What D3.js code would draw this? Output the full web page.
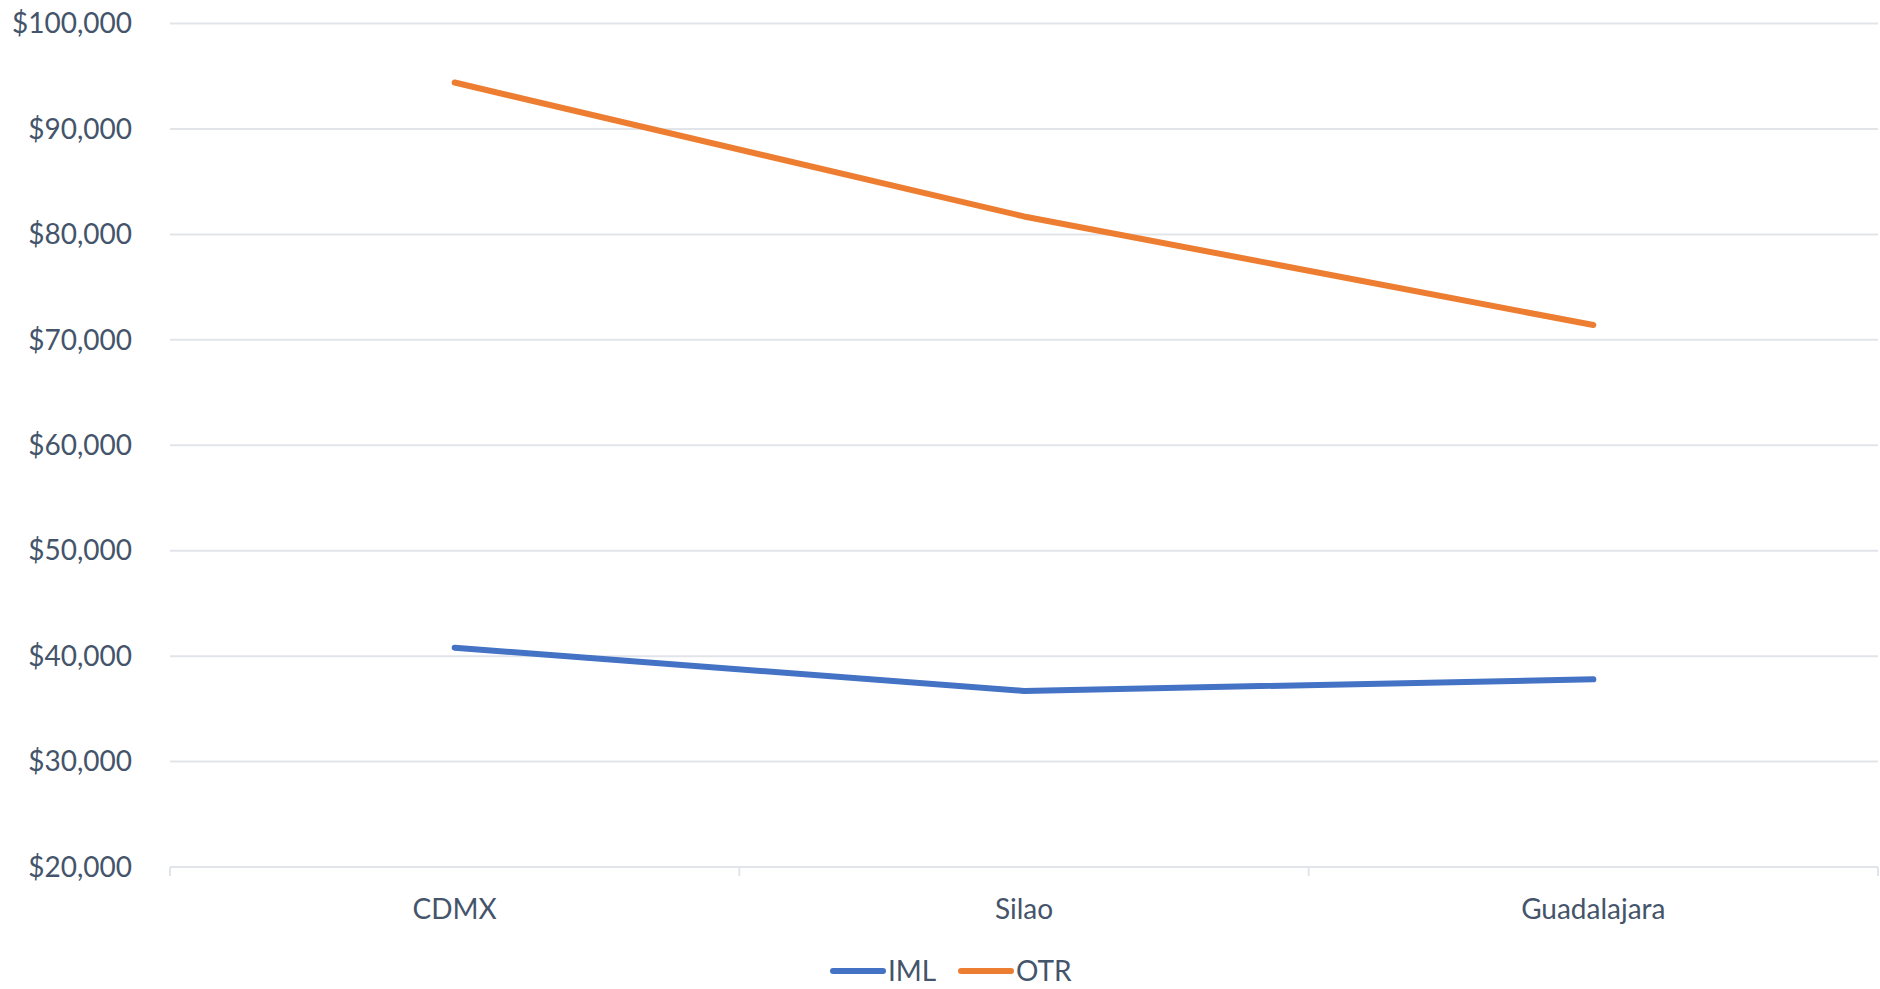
<!DOCTYPE html>
<html>
<head>
<meta charset="utf-8">
<script src="https://cdn.jsdelivr.net/npm/d3@7"></script>
<style>
  html, body { margin: 0; padding: 0; background: #fff; }
  svg { display: block; }
  text { font-family: Lato, "Open Sans", sans-serif; fill: #44546A; }
</style>
</head>
<body>
<svg id="chart" width="1880" height="989"></svg>
<script>
const categories = ["CDMX", "Silao", "Guadalajara"];
const seriesNames = ["IML", "OTR"];
const imlValues = [40800, 36700, 37800];
const otrValues = [94400, 81700, 71400];
const yTicks = [20000, 30000, 40000, 50000, 60000, 70000, 80000, 90000, 100000];
const colors = ["#4472C4", "#ED7D31"];

const series = [
  { name: seriesNames[0], values: imlValues, color: colors[0] },
  { name: seriesNames[1], values: otrValues, color: colors[1] }
];

const W = 1880, H = 989;
const m = { left: 170, right: 2, top: 23.5, bottom: 122 };
const svg = d3.select("#chart");

const x = d3.scaleBand().domain(categories).range([m.left, W - m.right]);
const y = d3.scaleLinear().domain([20000, 100000]).range([H - m.bottom, m.top]);

const fmt = v => "$" + d3.format(",")(v);

// gridlines
svg.append("g")
  .selectAll("line")
  .data(yTicks)
  .join("line")
  .attr("x1", m.left).attr("x2", W - m.right)
  .attr("y1", d => y(d)).attr("y2", d => y(d))
  .attr("stroke", "#E1E5EA").attr("stroke-width", 2);

// y labels
svg.append("g")
  .selectAll("text")
  .data(yTicks)
  .join("text")
  .attr("x", 132)
  .attr("y", d => y(d))
  .attr("dy", "0.35em")
  .attr("text-anchor", "end")
  .style("font-size", "28px")
  .text(fmt);

// category axis tick marks
const bounds = categories.map(c => x(c)).concat([x(categories[categories.length - 1]) + x.bandwidth()]);
svg.append("g")
  .selectAll("line")
  .data(bounds)
  .join("line")
  .attr("x1", d => d).attr("x2", d => d)
  .attr("y1", y(20000)).attr("y2", y(20000) + 9)
  .attr("stroke", "#E1E5EA").attr("stroke-width", 2);

// category labels
svg.append("g")
  .selectAll("text")
  .data(categories)
  .join("text")
  .attr("x", d => x(d) + x.bandwidth() / 2)
  .attr("y", 909)
  .attr("dy", "0.35em")
  .attr("text-anchor", "middle")
  .style("font-size", "28px")
  .text(d => d);

// lines
const line = d3.line()
  .x((d, i) => x(categories[i]) + x.bandwidth() / 2)
  .y(d => y(d));

svg.append("g")
  .selectAll("path")
  .data(series)
  .join("path")
  .attr("d", d => line(d.values))
  .attr("fill", "none")
  .attr("stroke", d => d.color)
  .attr("stroke-width", 6)
  .attr("stroke-linecap", "round")
  .attr("stroke-linejoin", "round");

// legend
const legendItems = [
  { name: seriesNames[0], color: colors[0], x0: 833 },
  { name: seriesNames[1], color: colors[1], x0: 961 }
];
const lg = svg.append("g");
legendItems.forEach(it => {
  lg.append("line")
    .attr("x1", it.x0).attr("x2", it.x0 + 50)
    .attr("y1", 971).attr("y2", 971)
    .attr("stroke", it.color).attr("stroke-width", 6)
    .attr("stroke-linecap", "round");
  lg.append("text")
    .attr("x", it.x0 + 55)
    .attr("y", 971)
    .attr("dy", "0.35em")
    .style("font-size", "28px")
    .text(it.name);
});
</script>
</body>
</html>
